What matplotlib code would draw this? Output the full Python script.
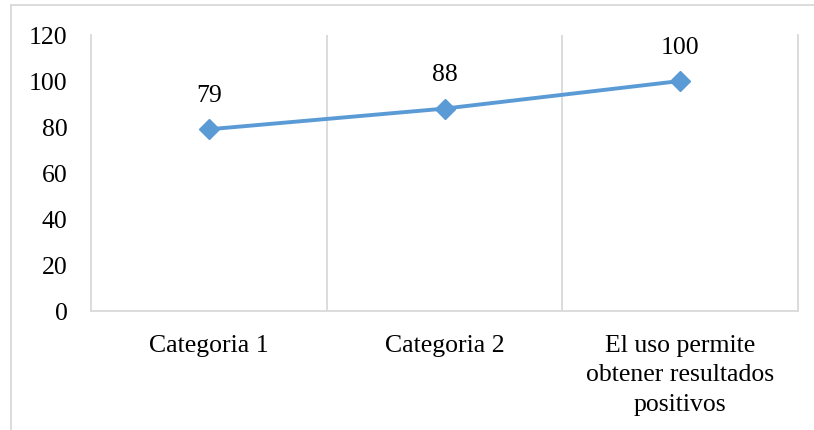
import matplotlib.pyplot as plt
from matplotlib.lines import Line2D

categories = ["Categoria 1", "Categoria 2", "El uso permite\nobtener resultados\npositivos"]
values = [79, 88, 100]
y_ticks = [0, 20, 40, 60, 80, 100, 120]

plt.rcParams['font.family'] = ['Liberation Serif', 'DejaVu Serif']

fig = plt.figure(figsize=(8.14, 4.30), dpi=100)
ax = fig.add_axes([91 / 814, 1 - 311 / 430, (798 - 91) / 814, (311 - 35) / 430])

grid_color = '#d9d9d9'
x = list(range(len(categories)))
ax.plot(x, values, color='#5b9bd5', linewidth=2.8, marker='D', markersize=10.5,
        solid_capstyle='round', zorder=3)

for xi, v in zip(x, values):
    ax.annotate(str(v), (xi, v), xytext=(0, 24), textcoords='offset points',
                ha='center', va='center', fontsize=18.5, color='black')

ax.set_xlim(-0.5, len(categories) - 0.5)
ax.set_ylim(0, 120)
ax.set_yticks(y_ticks)
ax.set_xticks(x)
ax.set_xticklabels(categories, linespacing=1.45)
ax.set_xticks([0.5, 1.5], minor=True)
ax.grid(True, which='minor', axis='x', color=grid_color, linewidth=1.3)
ax.tick_params(axis='both', which='both', length=0, labelsize=18.5)
ax.tick_params(axis='y', pad=17)
ax.tick_params(axis='x', pad=17)

ax.spines['top'].set_visible(False)
for side in ['left', 'right', 'bottom']:
    ax.spines[side].set_color(grid_color)
    ax.spines[side].set_linewidth(1.3)

# chart frame, only the top and left edges fall inside the image
fig.add_artist(Line2D([11 / 814, 1.0], [1 - 5 / 430, 1 - 5 / 430],
                      transform=fig.transFigure, color=grid_color, linewidth=1.3))
fig.add_artist(Line2D([11 / 814, 11 / 814], [0.0, 1 - 5 / 430],
                      transform=fig.transFigure, color=grid_color, linewidth=1.3))

fig.savefig('out.png', dpi=100)
